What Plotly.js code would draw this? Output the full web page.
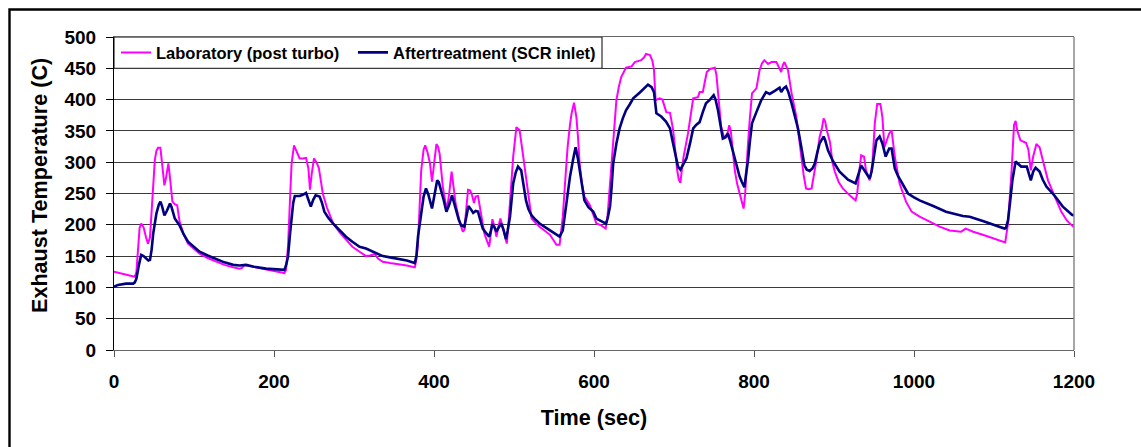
<!DOCTYPE html>
<html>
<head>
<meta charset="utf-8">
<script src="https://cdn.plot.ly/plotly-3.0.1.min.js"></script>
<style>
  html, body { margin: 0; padding: 0; background: #ffffff; overflow: hidden; }
  #chart { width: 1141px; height: 447px; }
</style>
</head>
<body>
<div id="chart"></div>
<script>
// ---- Data ----
const seriesNames = ["Laboratory (post turbo)", "Aftertreatment (SCR inlet)"];

const timeLab = [0,12,26,28,30,32,34,37,40,42.5,45,47,49,51,53,55,58,60,63,65,68,70,73,76,79,82,87,92.5,100,107,117,128,138,149,157,160,163,170,182,192,203,213,215,217.5,220,222,225,228,232,236,240,243,245,247,250,253,256,258,261,266,274,282,290,298,307,315,320,326,330,336,345,357,366,376,378,380,384,387,389,392,395,397.5,400,403,405,407,411,414,416,419,422,425,427,432,436,438,440,442.5,445,447,450,452,455,459,463,466,469,471,473,476,478,481,483,485,487,491,493,495,499,503,507,511,514,517.5,522,527,532,545,553,557,561,564,567,570,572,575,578,580,582,585,588,595,603,609,614.6,617,619,621.7,625,628,631,634,640,647,651,659,663,665,670,673,675,677,682,685.5,690.4,695,699,702,704,706,708,710,712,717.5,721,724,727,730,732,736,738,741,745,751,753,755,757,759,763,766,769,771,773,776,779,782,787,789,790,792,794.6,797.5,803,805,807,810,813,817.5,822,828,831,834,836,838,842.5,847,853,856,859,862,865,868,872,875,878,882,885,887,889,891,895,898,901,906,911,919.6,927,929,930,932,934,937.5,940,944.6,946,948,950,951,954,958,960.5,963,966,969,972,974,976,982,986,990,997,1007,1019.6,1032,1044.6,1059,1064.6,1074,1086,1099,1109,1114,1117.5,1120,1122,1125,1127,1129,1133,1140,1143,1146,1149,1153,1157,1161,1167.5,1176,1184,1191,1197.5,1200];
const tempLab = [125,121,117,125,165,195,202,196,180,170,180,223,265,303,318,323,323,300,263,275,298,275,237,233,231,205,185,170,161,154,147,141,136,132,130,131,136,134,131,128,125,123,128,165,240,298,327,318,306,306,307,290,256,280,306,300,291,275,250,228,202,188,176,165,157,150,151,153,146,141,139,137,135,132,145,170,287,320,327,315,298,269,300,329,325,314,261,235,223,250,285,255,234,205,189,192,220,256,255,250,235,245,246,213,186,175,165,185,209,195,181,200,210,200,189,170,200,234,309,356,351,314,285,255,210,203,197,184,168,168,213,270,324,360,378,395,372,340,298,265,245,231,202,199,194,215,250,298,350,399,420,436,451,453,460,463,468,473,471,462,447,399,402,400,380,379,351,310,287,272,267,290,309,346,380,402,403,404,412,412,425,444,449,451,440,410,380,356,338,340,359,350,325,287,265,250,226,250,277,320,367,410,418,432,447,458,463,457,460,460,452,444,455,460,447,410,372,340,309,280,258,257,258,280,303,340,355,370,365,351,332,300,285,268,258,247,239,250,266,290,311,309,287,271,280,298,340,362,393,393,372,324,335,346,351,330,309,266,250,237,221,213,205,197,191,189,194,189,184,178,174,172,202,245,287,359,366,351,335,331,320,287,309,329,324,303,271,245,221,207,198,196];

const timeAft = [0,5,15,24,26,28,31,34,37,40,43,45,47,49,51,53,56,58,60,63,66,70,72,76,82,87,92.5,100,107,117,128,138,149,157,165,175,190,200,213,215,217.5,220,222,224,226,232,236,240,243,246,249,252,257,260,263,268,274,282,290,298,307,315,324,336,345,357,366,376,378,380,384,387,390,393,397.5,400,404,406,409,412,415.5,419,422.5,425,428,431,434,438,440,443,446,449,452,455,458,461,465,469,471,473,476,478,481,484,487,490,492,495,497,499,502,505,509,512,515,518,522,527,532,545,557,561,565,570,574,577,580,582,585,588,593,599,603,611,615,617,620,622,624,628,632,636,640,645,649,657,663,667.5,672,675,678,684,690,695,698,701,705,708,711,715.5,720,724,728,732,736,740,745,749.6,752,755,758,761,764,767.5,770,774,778,782,785,788,790,792.5,795,797.5,803,809,815,819.6,826,829,832,834,837,840,843,847,851,855,859,863,866,869.6,873,876,879,882,887,889,892.5,896,899,907,917.5,927,930,934,938,944.6,947,949,951,953,957,960.5,964.6,967,969,972,976,980,984,992.5,1000,1007,1024,1040,1061,1069.6,1086,1103,1113,1115,1117.5,1120,1123,1127,1130,1134,1141,1143,1146,1149,1152,1157,1161,1165.5,1176,1186,1197.5,1200];
const tempAft = [101,104,106,106,108,114,135,152,150,146,143,144,160,186,205,218,232,237,230,215,222,234,228,210,199,185,173,164,157,151,145,140,136,135,136,133,130,129,128,135,149,185,213,235,246,246,248,251,240,229,240,247,245,235,221,211,202,191,181,173,165,162,157,150,148,145,143,139,150,181,223,245,258,248,226,245,271,268,255,240,221,232,247,235,221,208,199,197,210,230,225,219,222,221,207,194,187,181,190,201,195,189,196,202,192,177,190,213,240,266,283,293,287,265,239,225,215,208,202,191,181,191,230,277,305,324,305,287,260,239,228,221,210,205,202,210,229,260,298,330,354,370,383,393,402,411,418,424,420,412,378,373,365,354,335,319,293,288,296,306,330,354,360,364,380,394,400,407,400,383,360,338,340,346,335,314,295,277,268,260,280,303,335,362,380,399,412,409,414,416,419,412,418,421,412,394,374,354,325,295,288,286,290,298,315,330,341,335,319,308,301,285,272,266,280,295,287,274,285,303,320,335,341,330,309,318,322,322,290,278,269,250,244,239,230,221,214,213,206,199,194,195,207,235,271,301,297,293,293,285,271,285,291,285,272,261,246,229,216,215];

const yTickVals = [0,50,100,150,200,250,300,350,400,450,500];
const xTickVals = [0,200,400,600,800,1000,1200];
const axisTitles = { x: "Time (sec)", y: "Exhaust Temperature (C)" };

// ---- Layout geometry (pixels) ----
const W = 1141, H = 447;
const M = { l: 114, r: 67, t: 37, b: 97 };
const plotW = W - M.l - M.r, plotH = H - M.t - M.b;
const px2paperX = px => (px - M.l) / plotW;
const px2paperY = py => (H - M.b - py) / plotH;

const fontFam = "Liberation Sans, Arial, Helvetica, sans-serif";
const legendFont = { family: fontFam, size: 16.5, weight: 700, color: "#000" };
const tickFont = { family: fontFam, size: 19, weight: 700, color: "#000" };
const titleFont = { family: fontFam, size: 21.6, weight: 700, color: "#000" };

const traces = [
  { x: timeLab, y: tempLab, name: seriesNames[0], type: "scatter", mode: "lines",
    line: { color: "#FF00FF", width: 2 }, legend: "legend" },
  { x: timeAft, y: tempAft, name: seriesNames[1], type: "scatter", mode: "lines",
    line: { color: "#000080", width: 2.6 }, legend: "legend2" }
];

const legendCommon = {
  orientation: "h", xanchor: "left", y: 0.95, yanchor: "middle",
  bgcolor: "rgba(0,0,0,0)", borderwidth: 0, font: legendFont, itemwidth: 30
};

const layout = {
  width: W, height: H,
  margin: M,
  paper_bgcolor: "#ffffff", plot_bgcolor: "#ffffff",
  showlegend: true,
  legend: Object.assign({}, legendCommon, { x: px2paperX(116) }),
  legend2: Object.assign({}, legendCommon, { x: px2paperX(353) }),
  xaxis: {
    range: [0, 1200], tickvals: xTickVals, ticks: "outside", ticklen: 6, tickcolor: "#555",
    ticklabelstandoff: 8,
    showgrid: false, zeroline: false, showline: true, linecolor: "#666", linewidth: 1, mirror: true,
    tickfont: tickFont,
    title: { text: axisTitles.x, font: titleFont, standoff: 19 },
    fixedrange: true
  },
  yaxis: {
    range: [0, 500], tickvals: yTickVals, ticks: "outside", ticklen: 7, tickcolor: "#000",
    ticklabelstandoff: 6,
    showgrid: true, gridcolor: "#3a3a3a", gridwidth: 1, zeroline: false,
    showline: true, linecolor: "#000", linewidth: 1,
    tickfont: tickFont,
    fixedrange: true
  },
  annotations: [
    { text: axisTitles.y, xref: "paper", yref: "paper", x: px2paperX(39.5), y: px2paperY(185.5),
      xanchor: "center", yanchor: "middle", textangle: -90, showarrow: false, font: titleFont }
  ],
  shapes: [
    // legend box
    { type: "rect", xref: "paper", yref: "paper", x0: 0, x1: px2paperX(602), y0: 0.9, y1: 1,
      fillcolor: "#ffffff", line: { color: "#000", width: 1 }, layer: "between" },
    // right border of plot area
    { type: "line", xref: "paper", yref: "paper", x0: 1, x1: 1, y0: 0, y1: 1,
      line: { color: "#8a8a8a", width: 1.5 } },
    // outer chart frame (left and top edges visible)
    { type: "path", xref: "paper", yref: "paper",
      path: "M " + px2paperX(9.5) + " " + px2paperY(460) + " L " + px2paperX(9.5) + " " + px2paperY(9.5) +
            " L " + px2paperX(1160) + " " + px2paperY(9.5),
      line: { color: "#000", width: 2.4 } }
  ]
};

Plotly.newPlot("chart", traces, layout, { staticPlot: true, displayModeBar: false });
</script>
</body>
</html>
